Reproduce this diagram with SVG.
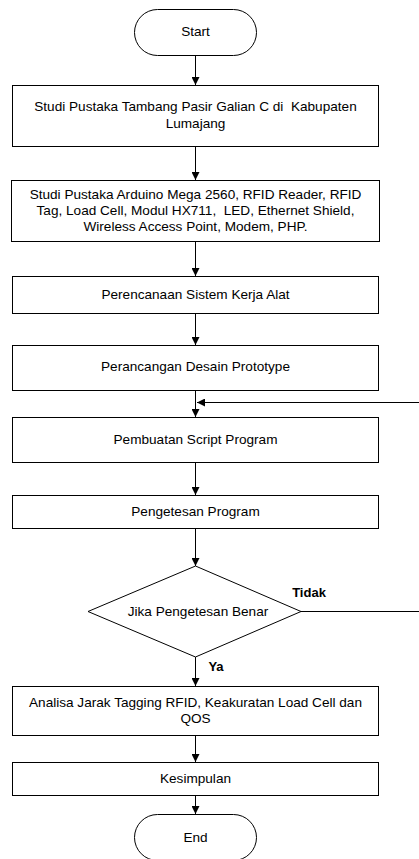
<svg xmlns="http://www.w3.org/2000/svg" width="419" height="859" viewBox="0 0 419 859">
<defs>
<marker id="ah" markerWidth="8" markerHeight="8" refX="8" refY="4" orient="auto" markerUnits="userSpaceOnUse">
<path d="M0,0 L8,4 L0,8 Z" fill="#000"/>
</marker>
</defs>
<style>
.n{fill:#fff;stroke:#000;stroke-width:1}
.t{font-family:"Liberation Sans",Arial,sans-serif;font-size:13.6px;fill:#000;text-anchor:middle;white-space:pre}
.b{font-weight:bold;font-size:13px}
.c{fill:none;stroke:#000;stroke-width:1}
</style>
<rect width="419" height="859" fill="#fff"/>
<g id="connectors">
<line class="c" x1="195.5" y1="55" x2="195.5" y2="85" marker-end="url(#ah)"/>
<line class="c" x1="195.5" y1="147" x2="195.5" y2="180" marker-end="url(#ah)"/>
<line class="c" x1="195.5" y1="242" x2="195.5" y2="276" marker-end="url(#ah)"/>
<line class="c" x1="195.5" y1="314" x2="195.5" y2="345" marker-end="url(#ah)"/>
<line class="c" x1="195.5" y1="390" x2="195.5" y2="417" marker-end="url(#ah)"/>
<line class="c" x1="195.5" y1="462" x2="195.5" y2="495" marker-end="url(#ah)"/>
<line class="c" x1="195.5" y1="529" x2="195.5" y2="566" marker-end="url(#ah)"/>
<line class="c" x1="195.5" y1="657" x2="195.5" y2="686" marker-end="url(#ah)"/>
<line class="c" x1="195.5" y1="736" x2="195.5" y2="762" marker-end="url(#ah)"/>
<line class="c" x1="195.5" y1="796" x2="195.5" y2="814" marker-end="url(#ah)"/>
<path class="c" d="M301,611.5 H425 V402.5 H197" stroke="#666" marker-end="url(#ah)"/>
<line class="c" x1="301" y1="611.5" x2="425" y2="611.5"/>
<text class="t b" x="309" y="597">Tidak</text>
<text class="t b" x="216" y="671">Ya</text>
</g>
<g id="start">
<rect class="n" x="134.5" y="9.5" width="122" height="46" rx="23" ry="23"/>
<text class="t" x="195.5" y="36">Start</text>
</g>
<g id="box1">
<rect class="n" x="12.5" y="85.5" width="366" height="61"/>
<text class="t" x="195.5" y="111">Studi Pustaka Tambang Pasir Galian C di  Kabupaten</text>
<text class="t" x="195.5" y="128">Lumajang</text>
</g>
<g id="box2">
<rect class="n" x="11.5" y="180.5" width="368" height="61"/>
<text class="t" x="195.5" y="199">Studi Pustaka Arduino Mega 2560, RFID Reader, RFID</text>
<text class="t" x="195.5" y="215">Tag, Load Cell, Modul HX711,  LED, Ethernet Shield,</text>
<text class="t" x="195.5" y="231">Wireless Access Point, Modem, PHP.</text>
</g>
<g id="box3">
<rect class="n" x="12.5" y="276.5" width="366" height="37"/>
<text class="t" x="195.5" y="299">Perencanaan Sistem Kerja Alat</text>
</g>
<g id="box4">
<rect class="n" x="12.5" y="345.5" width="366" height="45"/>
<text class="t" x="195.5" y="371">Perancangan Desain Prototype</text>
</g>
<g id="box5">
<rect class="n" x="12.5" y="417.5" width="366" height="45"/>
<text class="t" x="195.5" y="444">Pembuatan Script Program</text>
</g>
<g id="box6">
<rect class="n" x="12.5" y="495.5" width="366" height="33"/>
<text class="t" x="195.5" y="516">Pengetesan Program</text>
</g>
<g id="decision">
<polygon class="n" points="195.5,566 301,611.5 195.5,657 88,611.5"/>
<text class="t" x="198" y="616">Jika Pengetesan Benar</text>
</g>
<g id="box7">
<rect class="n" x="12.5" y="686.5" width="366" height="49"/>
<text class="t" x="195.5" y="707">Analisa Jarak Tagging RFID, Keakuratan Load Cell dan</text>
<text class="t" x="195.5" y="723">QOS</text>
</g>
<g id="box8">
<rect class="n" x="12.5" y="762.5" width="366" height="33"/>
<text class="t" x="195.5" y="783">Kesimpulan</text>
</g>
<g id="end">
<rect class="n" x="134.5" y="814.5" width="122" height="46" rx="23" ry="23"/>
<text class="t" x="195.5" y="842">End</text>
</g>
</svg>
